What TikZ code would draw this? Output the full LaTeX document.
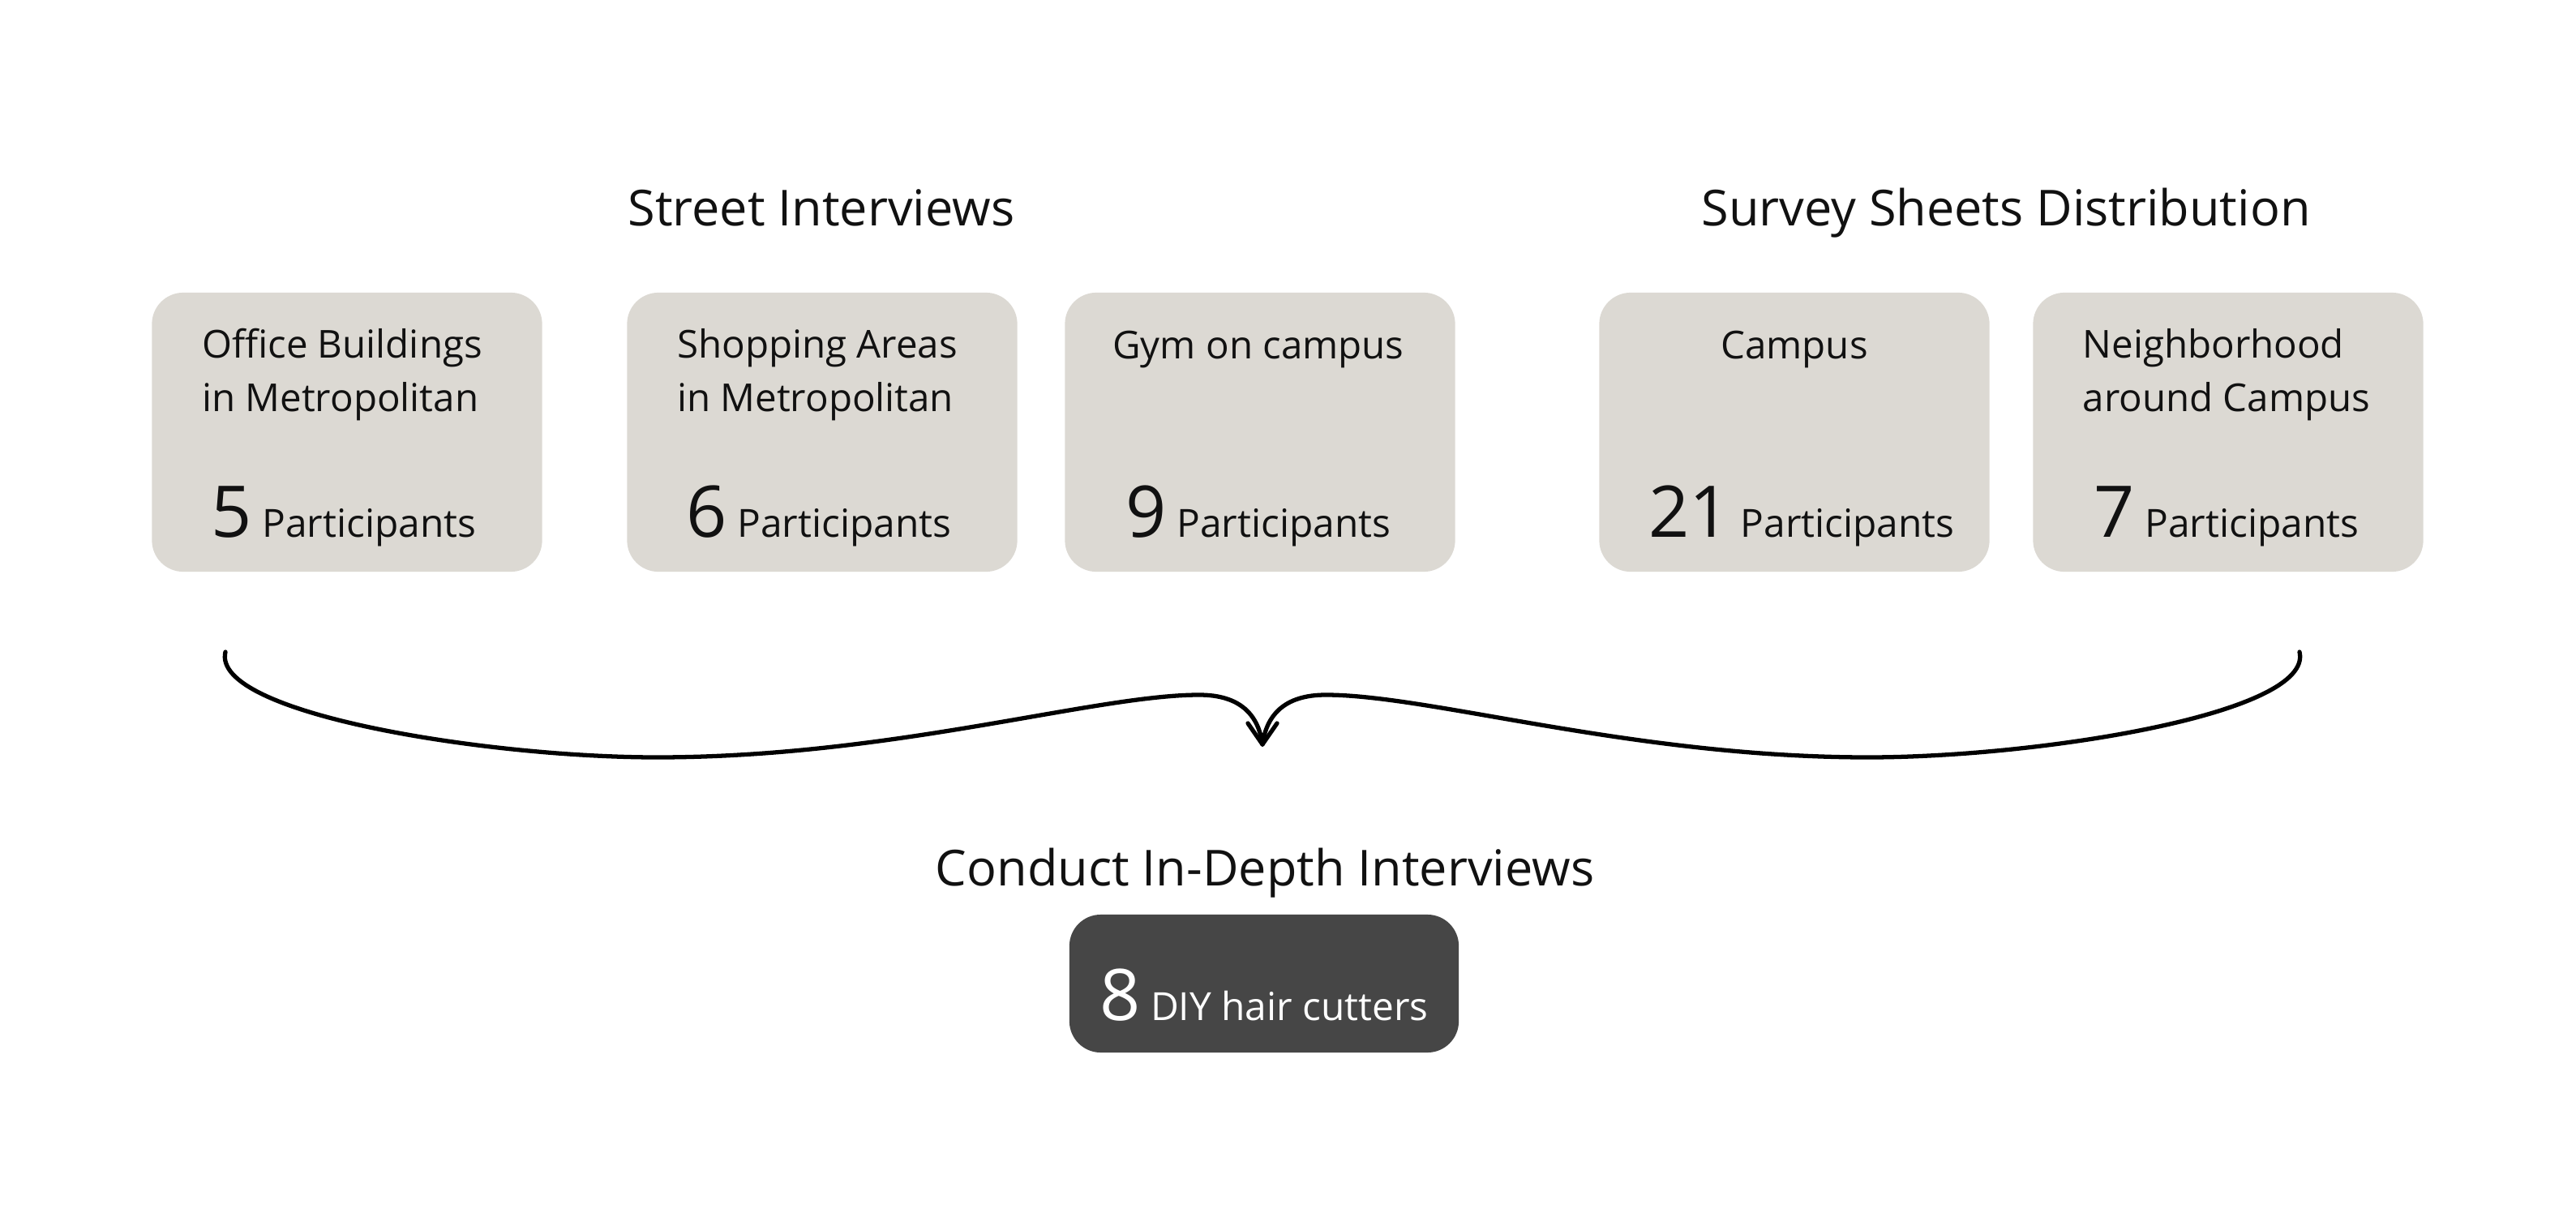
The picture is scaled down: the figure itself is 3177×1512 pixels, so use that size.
\documentclass[tikz,border=0pt]{standalone}
\usepackage{fontspec}
\setmainfont{Open Sans}
\definecolor{boxfill}{HTML}{DCD9D3}
\definecolor{darkfill}{HTML}{464646}
\definecolor{ink}{HTML}{111111}
\newcommand\bignum[1]{{\fontsize{25}{28}\selectfont #1}}
\tikzset{
  card/.style={fill=boxfill, rounded corners=11pt, minimum width=4.81cm, minimum height=3.44cm, inner sep=0pt},
  darkcard/.style={fill=darkfill, rounded corners=11pt, minimum width=4.80cm, minimum height=1.70cm, inner sep=0pt},
  heading/.style={anchor=base, text=ink, font=\fontsize{17.4}{21}\selectfont},
  cardlabel/.style={anchor=base, align=left, text=ink, font=\fontsize{13.5}{18.5}\selectfont},
  count/.style={anchor=base, text=ink, font=\fontsize{13.6}{18}\selectfont},
  brace/.style={draw=black, line width=1.5pt, line cap=round},
}
\begin{document}
\begin{tikzpicture}[x=0.01cm, y=-0.01cm]
\useasboundingbox[fill=white] (0,0) rectangle (3177,1512);
% headings
\node[heading] (t1) at (1013,278) {Street Interviews};
\node[heading] (t2) at (2474,278) {Survey Sheets Distribution};
% cards
\node[card] (c1) at (428,533) {};
\node[card] (c2) at (1014,533) {};
\node[card] (c3) at (1554,533) {};
\node[card] (c4) at (2213,533) {};
\node[card] (c5) at (2748,533) {};
% two-line labels: base anchor sits on the last line
\node[cardlabel] (l1) at (422,507) {Office Buildings\\in Metropolitan};
\node[cardlabel] (l2) at (1008,507) {Shopping Areas\\in Metropolitan};
\node[cardlabel] (l3) at (1552,442) {Gym on campus};
\node[cardlabel] (l4) at (2213,442) {Campus};
\node[cardlabel] (l5) at (2746,507) {Neighborhood\\around Campus};
\node[count] (n1) at (424,662) {\bignum{5} Participants};
\node[count] (n2) at (1010,662) {\bignum{6} Participants};
\node[count] (n3) at (1552,662) {\bignum{9} Participants};
\node[count] (n4) at (2222,662) {\bignum{21} Participants};
\node[count] (n5) at (2746,662) {\bignum{7} Participants};
% brace
\coordinate (L) at (278,804);
\coordinate (R) at (2836,804);
\coordinate (T) at (1557,918);
\draw[brace] (L) .. controls (260,880) and (600,934) .. (810,934)
  .. controls (1100,934) and (1350,857) .. (1479,857)
  .. controls (1530,857) and (1552,882) .. (T);
\draw[brace] (R) .. controls (2854,880) and (2514,934) .. (2304,934)
  .. controls (2014,934) and (1764,857) .. (1635,857)
  .. controls (1584,857) and (1562,882) .. (T);
\draw[brace, line join=round] ([shift={(-18,-26)}]T) -- (T) -- ([shift={(18,-26)}]T);
% bottom
\node[heading] (t3) at (1560,1092) {Conduct In-Depth Interviews};
\node[darkcard] (d) at (1559,1213) {};
\node[count, text=white] (dn) at (1559,1258) {\bignum{8} DIY hair cutters};
\end{tikzpicture}
\end{document}
